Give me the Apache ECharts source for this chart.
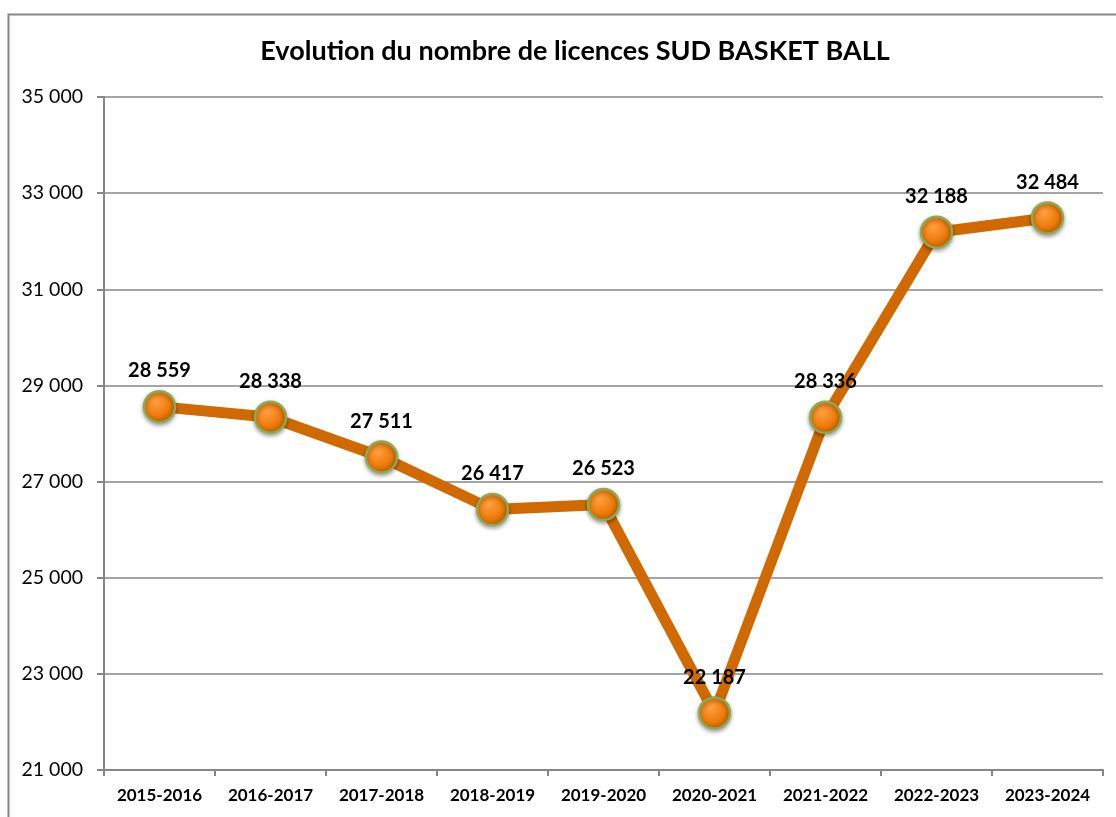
<!DOCTYPE html>
<html>
<head>
<meta charset="utf-8">
<title>licences</title>
<script src="https://cdn.jsdelivr.net/npm/echarts@6.0.0/dist/echarts.min.js"></script>
<style>
  html, body { margin: 0; padding: 0; background: #fff; }
  #main { width: 1116px; height: 817px; }
</style>
</head>
<body>
<div id="main"></div>
<script type="text/javascript">
const seasons = ['2015-2016', '2016-2017', '2017-2018', '2018-2019', '2019-2020',
  '2020-2021', '2021-2022', '2022-2023', '2023-2024'];
const licences = [28559, 28338, 27511, 26417, 26523, 22187, 28336, 32188, 32484];

const fmt = function(v) {
  return String(v).replace(/\B(?=(\d{3})+(?!\d))/g, ' ');
};

var myChart = echarts.init(document.getElementById('main'));
var option = {
  backgroundColor: '#fff',
  animation: false,
  title: {
    text: 'Evolution du nombre de licences SUD BASKET BALL',
    left: 570, top: 33, textAlign: 'center',
    textStyle: {fontFamily: 'Lato', fontWeight: 'bold', fontSize: 27, color: '#000'}
  },
  graphic: [{
    type: 'rect', silent: true, z: -1,
    shape: {x: 8.5, y: 14.5, width: 1120, height: 820},
    style: {fill: 'none', stroke: '#868686', lineWidth: 2}
  }],
  grid: {left: 104, right: 13, top: 97, bottom: 47},
  xAxis: {
    type: 'category',
    data: seasons,
    boundaryGap: true,
    axisLine: {lineStyle: {color: '#868686', width: 2}},
    axisTick: {show: true, interval: 0, length: 6, lineStyle: {color: '#868686', width: 2}},
    axisLabel: {interval: 0, hideOverlap: false, margin: 17, color: '#000',
      fontFamily: 'Lato', fontWeight: 'bold', fontSize: 17}
  },
  yAxis: {
    type: 'value',
    min: 21000, max: 35000, interval: 2000,
    axisLine: {show: true, lineStyle: {color: '#868686', width: 2}},
    axisTick: {show: true, length: 7, lineStyle: {color: '#868686', width: 2}},
    splitLine: {lineStyle: {color: '#868686', width: 1.5}},
    axisLabel: {margin: 21, color: '#000', fontFamily: 'Lato', fontSize: 19.5, formatter: fmt}
  },
  series: [{
    type: 'line',
    data: licences,
    symbol: 'circle',
    symbolSize: 31,
    lineStyle: {color: '#D06A00', width: 11},
    itemStyle: {
      color: new echarts.graphic.RadialGradient(0.4, 0.35, 0.7, [
        {offset: 0, color: '#FFA040'},
        {offset: 0.6, color: '#EE7A0A'},
        {offset: 1, color: '#B45A00'}
      ]),
      borderColor: '#8DAA50', borderWidth: 2.5,
      shadowColor: 'rgba(0,0,0,0.35)', shadowBlur: 4, shadowOffsetY: 2
    },
    label: {
      show: true, position: 'top', distance: 9,
      color: '#000', fontFamily: 'Lato', fontWeight: 'bold', fontSize: 20,
      formatter: function(p) { return fmt(p.value); }
    },
    labelLayout: {hideOverlap: false},
    z: 3
  }]
};
myChart.setOption(option);
</script>
</body>
</html>
